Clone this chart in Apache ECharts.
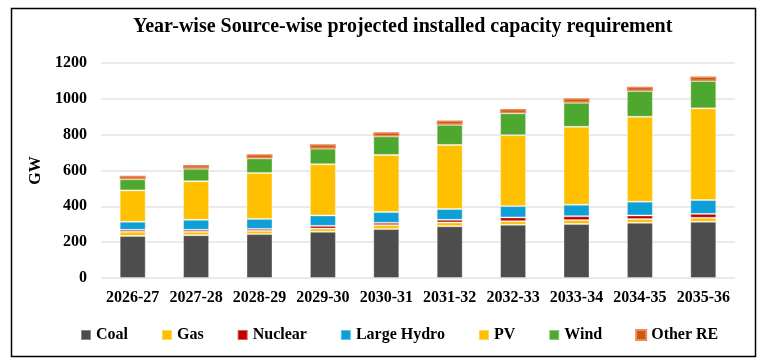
<!DOCTYPE html>
<html>
<head>
<meta charset="utf-8">
<script src="https://cdn.jsdelivr.net/npm/echarts@6/dist/echarts.min.js"></script>
<style>
html,body{margin:0;padding:0;background:#fff;}
#c{width:765px;height:362px;}
</style>
</head>
<body>
<div id="c"></div>
<script>
const categories = ['2026-27','2027-28','2028-29','2029-30','2030-31','2031-32','2032-33','2033-34','2034-35','2035-36'];
const coal    = [235, 239, 245, 258, 273, 289, 297, 302, 308, 314];
const gas     = [23, 19, 18, 18, 22, 21, 20, 21, 21, 22];
const nuclear = [11, 11, 11, 15, 13, 15, 21, 22, 20, 22];
const hydro   = [45, 56, 56, 58, 60, 60, 63, 64, 77, 77];
const pv      = [175, 215, 256, 286, 319, 358, 396, 435, 474, 512];
const wind    = [62, 70, 81, 87, 103, 112, 122, 134, 144, 153];
const otherRE = [20, 21, 24, 25, 24, 24, 24, 25, 24, 24];
const yTicks  = [0, 200, 400, 600, 800, 1000, 1200];

const FONT = "'Liberation Serif','Times New Roman',serif";
const seriesDefs = [
  ['Coal', coal, '#4D4D4D', 'rgba(255,255,255,0.35)'],
  ['Gas', gas, '#FFC000', 'rgba(255,255,255,0.35)'],
  ['Nuclear', nuclear, '#C00000', 'rgba(255,255,255,0.35)'],
  ['Large Hydro', hydro, '#0E9FD6', 'rgba(255,255,255,0.35)'],
  ['PV', pv, '#FFC000', 'rgba(255,255,255,0.35)'],
  ['Wind', wind, '#4EA72E', 'rgba(255,255,255,0.35)'],
  ['Other RE', otherRE, '#C55A11', '#F0885A']
];

const chart = echarts.init(document.getElementById('c'), null, {renderer:'canvas'});
chart.setOption({
  backgroundColor: '#fff',
  animation: false,
  title: {
    text: 'Year-wise Source-wise projected installed capacity requirement',
    left: 128, top: 12,
    textStyle: {fontFamily: FONT, fontWeight: 'bold', fontSize: 20, color: '#000'}
  },
  legend: {
    data: seriesDefs.map(s => s[0]),
    left: 80, top: 327, padding: 0,
    itemWidth: 10, itemHeight: 10, itemGap: 33,
    textStyle: {fontFamily: FONT, fontWeight: 'bold', fontSize: 16, color: '#000'},
    icon: 'rect'
  },
  grid: {left: 101, right: 30, top: 63, bottom: 84},
  xAxis: {
    type: 'category', data: categories,
    axisLine: {show: false}, axisTick: {show: false},
    axisLabel: {fontFamily: FONT, fontWeight: 'bold', fontSize: 16, color: '#000', margin: 12, interval: 0}
  },
  yAxis: {
    type: 'value', min: yTicks[0], max: yTicks[yTicks.length-1], interval: 200,
    name: 'GW', nameLocation: 'middle', nameGap: 47, nameRotate: 90,
    nameTextStyle: {fontFamily: FONT, fontWeight: 'bold', fontSize: 16, color: '#000'},
    axisLine: {show: false}, axisTick: {show: false},
    axisLabel: {fontFamily: FONT, fontWeight: 'bold', fontSize: 16, color: '#000', margin: 14,
      formatter: v => String(v)},
    splitLine: {lineStyle: {color: '#E3E3E3', width: 1.5}}
  },
  series: seriesDefs.map(s => ({
    name: s[0], type: 'bar', stack: 'total', data: s[1], barWidth: 26,
    itemStyle: {color: s[2], borderColor: s[3], borderWidth: s[0]==='Other RE' ? 1.5 : 1}
  })),
  graphic: [{
    type: 'rect', left: 9, top: 6, silent: true,
    shape: {width: 744, height: 348},
    style: {fill: 'none', stroke: '#000', lineWidth: 1.5}
  }]
});
</script>
</body>
</html>
